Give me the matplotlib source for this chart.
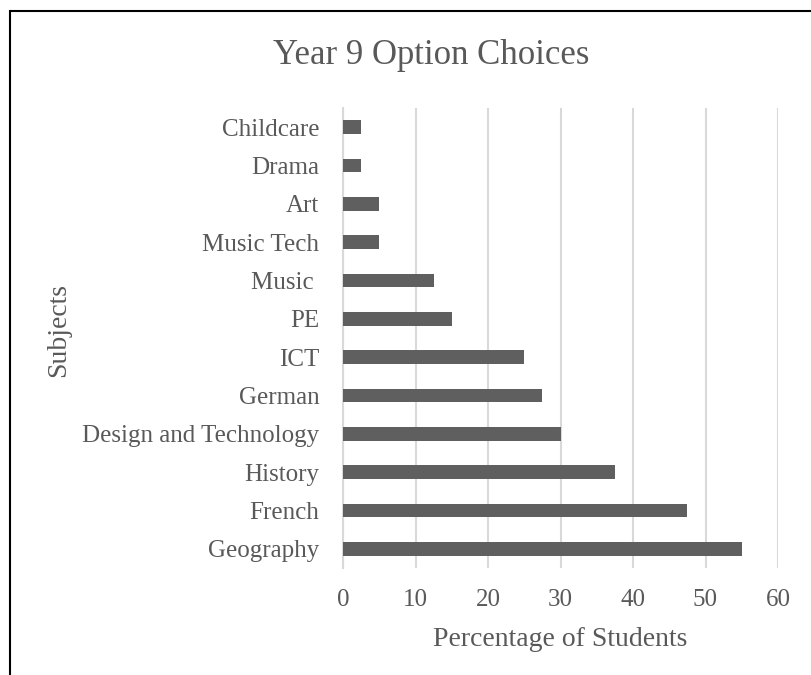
import matplotlib
matplotlib.use("Agg")
import matplotlib.pyplot as plt
from matplotlib.patches import Rectangle

# Data (top to bottom as shown)
subjects = ["Childcare", "Drama", "Art", "Music Tech", "Music ", "PE", "ICT",
            "German", "Design and Technology", "History", "French", "Geography"]
percentages = [2.5, 2.5, 5, 5, 12.5, 15, 25, 27.5, 30, 37.5, 47.5, 55]
x_ticks = [0, 10, 20, 30, 40, 50, 60]

text_col = "#595959"
plt.rcParams["font.family"] = ["Liberation Serif", "DejaVu Serif"]

fig = plt.figure(figsize=(8.11, 6.75), dpi=100)
ax = fig.add_axes([343 / 811, 107 / 675, 435 / 811, 460 / 675])

# Outer border of the chart area
fig.patches.append(Rectangle((10 / 811, -0.1), 1.1, (675 - 11) / 675 + 0.1,
                             transform=fig.transFigure, fill=False,
                             edgecolor="black", linewidth=1.5))

ypos = list(range(len(subjects)))
ax.barh(ypos, percentages, height=0.35, color="#5f5f5f", zorder=3)

ax.set_xlim(0, 60)
ax.set_ylim(len(subjects) - 0.5, -0.5)
ax.set_xticks(x_ticks)
ax.set_yticks(ypos)
ax.set_yticklabels(subjects)
ax.grid(axis="x", color="#d9d9d9", linewidth=1.5, zorder=0)

for s in ["top", "right", "bottom"]:
    ax.spines[s].set_visible(False)
ax.spines["left"].set_color("#d9d9d9")
ax.spines["left"].set_linewidth(1.5)
ax.tick_params(axis="both", length=0, colors=text_col, labelsize=18)
ax.tick_params(axis="y", pad=17)
ax.tick_params(axis="x", pad=15)

ax.set_xlabel("Percentage of Students", fontsize=20, color=text_col, labelpad=12)
fig.text(59 / 811, 1 - 330 / 675, "Subjects", rotation=90, fontsize=20,
         color=text_col, ha="center", va="center")
fig.text(431 / 811, 1 - 55 / 675, "Year 9 Option Choices", fontsize=25,
         color=text_col, ha="center", va="center")

fig.savefig("out.png", dpi=100)
